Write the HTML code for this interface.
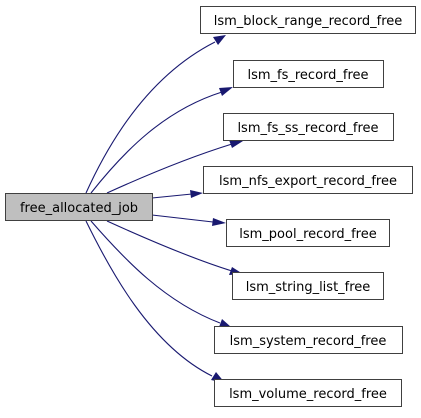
<!DOCTYPE html>
<html><head><style>body{margin:0;background:#fff}</style></head><body>
<svg width="421" height="413" xmlns="http://www.w3.org/2000/svg" font-family="DejaVu Sans, sans-serif" font-size="13">
<g fill="none" stroke="#191970" stroke-width="1.1">
<path d="M86,193 C110,140 150,75 215,42"/>
<path d="M91,193 C125,150 165,110 222,92"/>
<path d="M107,193 C140,178 190,157 232,144"/>
<path d="M152,198 L192,194"/>
<path d="M152,215 L213,222"/>
<path d="M107,221 C140,236 190,258 232,271"/>
<path d="M91,221 C125,260 165,302 220,323"/>
<path d="M86,221 C110,270 150,345 212,376"/>
</g>
<g fill="#191970">
<polygon points="226,35 213,37 218,45"/>
<polygon points="233,87 219,88 222,96"/>
<polygon points="243,141 229,140 232,148"/>
<polygon points="203,193 190,190 191,198"/>
<polygon points="226,223 213,218 212,226"/>
<polygon points="243,274 232,267 229,275"/>
<polygon points="231,327 222,319 219,327"/>
<polygon points="225,383 216,372 211,380"/>
</g>
<g stroke="#404040" stroke-width="1" fill="#fff">
<rect x="5.5" y="193.5" width="147" height="27" fill="#bfbfbf"/>
<rect x="200.5" y="6.5" width="215" height="27"/>
<rect x="233.5" y="60.5" width="150" height="27"/>
<rect x="223.5" y="113.5" width="170" height="27"/>
<rect x="203.5" y="166.5" width="209" height="27"/>
<rect x="226.5" y="219.5" width="163" height="27"/>
<rect x="232.5" y="272.5" width="151" height="27"/>
<rect x="214.5" y="326.5" width="188" height="27"/>
<rect x="214.5" y="379.5" width="187" height="27"/>
</g>
<g fill="#000" text-anchor="middle">
<text x="79" y="212">free_allocated_job</text>
<text x="308" y="25">lsm_block_range_record_free</text>
<text x="308" y="79">lsm_fs_record_free</text>
<text x="308" y="132">lsm_fs_ss_record_free</text>
<text x="308" y="185">lsm_nfs_export_record_free</text>
<text x="308" y="238">lsm_pool_record_free</text>
<text x="308" y="291">lsm_string_list_free</text>
<text x="308" y="345">lsm_system_record_free</text>
<text x="308" y="398">lsm_volume_record_free</text>
</g>
</svg>
</body></html>
